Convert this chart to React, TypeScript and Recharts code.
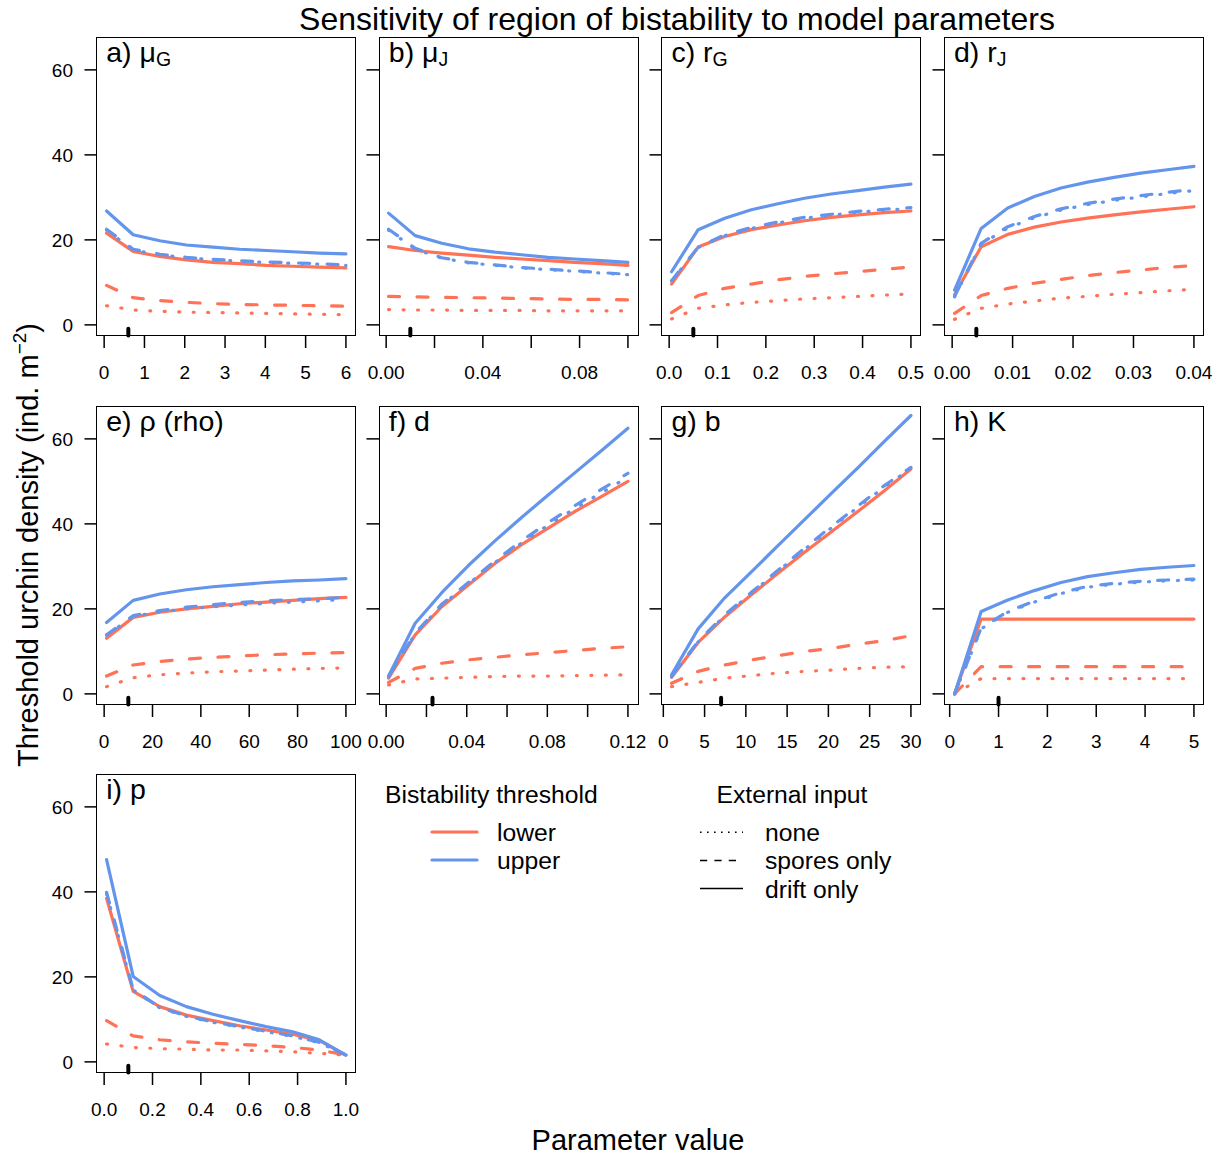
import React from 'react';
import { LineChart, Line, XAxis, YAxis, ReferenceLine } from 'recharts';

const RED = '#FF7256';
const BLUE = '#6495ED';
const FONT = '"Liberation Sans", Arial, Helvetica, sans-serif';

// a) mu_G
const muGX = [0.06, 0.72, 1.38, 2.04, 2.7, 3.36, 4.02, 4.68, 5.34, 6];
const muGLowerNone = [4.5, 3.5, 3.2, 3.0, 2.9, 2.8, 2.7, 2.6, 2.5, 2.4];
const muGLowerSpores = [9.3, 6.4, 5.7, 5.3, 5.0, 4.8, 4.7, 4.6, 4.5, 4.4];
const muGLowerDrift = [21.6, 17.3, 16.1, 15.3, 14.7, 14.4, 14.0, 13.8, 13.6, 13.4];
const muGUpperNone = [22.3, 17.6, 16.5, 15.8, 15.3, 15.0, 14.7, 14.5, 14.3, 14.0];
const muGUpperSpores = [22.5, 17.8, 16.6, 15.9, 15.4, 15.1, 14.8, 14.6, 14.4, 14.1];
const muGUpperDrift = [26.8, 21.2, 19.8, 18.8, 18.3, 17.8, 17.5, 17.2, 16.9, 16.7];

// b) mu_J
const muJX = [0.001, 0.012, 0.023, 0.034, 0.045, 0.056, 0.067, 0.078, 0.089, 0.1];
const muJLowerNone = [3.6, 3.5, 3.5, 3.4, 3.4, 3.4, 3.3, 3.3, 3.3, 3.3];
const muJLowerSpores = [6.7, 6.6, 6.5, 6.4, 6.3, 6.2, 6.1, 6.0, 6.0, 5.9];
const muJLowerDrift = [18.4, 17.5, 16.9, 16.4, 15.9, 15.5, 15.1, 14.7, 14.4, 14.0];
const muJUpperNone = [22.3, 17.8, 15.7, 14.6, 14.0, 13.4, 13.0, 12.6, 12.2, 11.8];
const muJUpperSpores = [22.5, 18.0, 15.8, 14.7, 14.1, 13.5, 13.1, 12.7, 12.3, 11.9];
const muJUpperDrift = [26.3, 21.0, 19.2, 17.9, 17.1, 16.5, 15.9, 15.5, 15.1, 14.7];

// c) r_G
const rGX = [0.005, 0.06, 0.115, 0.17, 0.225, 0.28, 0.335, 0.39, 0.445, 0.5];
const rGLowerNone = [1.4, 3.9, 4.7, 5.3, 5.7, 6.1, 6.4, 6.7, 7.0, 7.3];
const rGLowerSpores = [2.9, 6.9, 8.6, 9.6, 10.6, 11.4, 12.0, 12.5, 13.1, 13.6];
const rGLowerDrift = [9.6, 18.3, 20.8, 22.4, 23.5, 24.5, 25.3, 25.9, 26.4, 26.8];
const rGUpperNone = [10.3, 18.2, 21.0, 22.7, 24.0, 25.1, 25.8, 26.5, 27.0, 27.4];
const rGUpperSpores = [10.4, 18.3, 21.2, 22.9, 24.2, 25.3, 26.0, 26.7, 27.2, 27.6];
const rGUpperDrift = [12.5, 22.4, 25.1, 27.1, 28.5, 29.8, 30.8, 31.6, 32.4, 33.1];

// d) r_J
const rJX = [0.0004, 0.0048, 0.0092, 0.0136, 0.018, 0.0224, 0.0268, 0.0312, 0.0356, 0.04];
const rJLowerNone = [1.3, 3.9, 4.9, 5.6, 6.3, 6.7, 7.2, 7.6, 8.0, 8.4];
const rJLowerSpores = [2.7, 6.9, 8.6, 9.8, 10.7, 11.6, 12.3, 12.9, 13.5, 14.0];
const rJLowerDrift = [7.1, 18.4, 21.3, 23.0, 24.2, 25.1, 25.9, 26.6, 27.2, 27.8];
const rJUpperNone = [6.6, 19.0, 22.8, 25.2, 27.0, 28.3, 29.3, 30.1, 30.9, 31.6];
const rJUpperSpores = [6.7, 19.2, 23.1, 25.5, 27.3, 28.6, 29.6, 30.4, 31.2, 31.9];
const rJUpperDrift = [8.2, 22.7, 27.5, 30.2, 32.2, 33.6, 34.7, 35.7, 36.5, 37.3];

// e) rho
const rhoX = [1, 12, 23, 34, 45, 56, 67, 78, 89, 100];
const rhoLowerNone = [1.7, 3.8, 4.5, 4.9, 5.2, 5.4, 5.6, 5.8, 6.0, 6.1];
const rhoLowerSpores = [4.2, 6.8, 7.6, 8.2, 8.6, 8.9, 9.2, 9.4, 9.6, 9.7];
const rhoLowerDrift = [13.1, 18.0, 19.2, 20.0, 20.6, 21.2, 21.6, 22.0, 22.4, 22.7];
const rhoUpperNone = [13.8, 18.2, 19.3, 20.0, 20.5, 20.9, 21.3, 21.6, 21.9, 22.2];
const rhoUpperSpores = [13.9, 18.4, 19.6, 20.4, 21.0, 21.5, 21.9, 22.2, 22.4, 22.7];
const rhoUpperDrift = [16.8, 22.0, 23.5, 24.5, 25.2, 25.7, 26.2, 26.6, 26.8, 27.1];

// f) d
const dX = [0.0012, 0.0144, 0.0276, 0.0408, 0.054, 0.0672, 0.0804, 0.0936, 0.1068, 0.12];
const dLowerNone = [2.1, 3.5, 3.7, 3.9, 4.1, 4.2, 4.2, 4.3, 4.4, 4.5];
const dLowerSpores = [2.7, 6.0, 7.2, 8.0, 8.6, 9.2, 9.7, 10.2, 10.7, 11.1];
const dLowerDrift = [3.7, 13.9, 20.5, 25.6, 30.7, 35.1, 39.0, 42.9, 46.4, 50.0];
const dUpperNone = [4.0, 14.1, 20.9, 25.9, 30.9, 35.5, 39.7, 43.6, 47.3, 51.0];
const dUpperSpores = [4.1, 14.3, 21.1, 26.2, 31.3, 36.0, 40.3, 44.3, 48.1, 51.9];
const dUpperDrift = [4.2, 16.6, 23.8, 30.2, 36.0, 41.5, 46.8, 52.0, 57.2, 62.5];

// g) b
const bX = [1, 4.22, 7.44, 10.67, 13.89, 17.11, 20.33, 23.56, 26.78, 30];
const bLowerNone = [1.7, 2.7, 3.7, 4.3, 4.9, 5.3, 5.6, 6.0, 6.3, 6.4];
const bLowerSpores = [2.5, 5.3, 6.8, 8.0, 9.0, 10.0, 10.7, 11.7, 12.5, 13.7];
const bLowerDrift = [3.9, 12.1, 18.1, 23.3, 28.4, 33.3, 38.1, 42.9, 47.8, 52.9];
const bUpperNone = [4.0, 12.2, 18.4, 23.7, 28.9, 34.0, 39.0, 43.9, 48.7, 53.0];
const bUpperSpores = [4.1, 12.4, 18.6, 23.9, 29.1, 34.3, 39.3, 44.2, 49.0, 53.3];
const bUpperDrift = [4.5, 15.3, 22.6, 28.7, 34.9, 41.0, 47.1, 53.2, 59.4, 65.5];

// h) K
const kX = [0.1, 0.644, 1.189, 1.733, 2.278, 2.822, 3.367, 3.911, 4.456, 5];
const kLowerNone = [0, 3.6, 3.6, 3.6, 3.6, 3.6, 3.6, 3.6, 3.6, 3.6];
const kLowerSpores = [0, 6.4, 6.4, 6.4, 6.4, 6.4, 6.4, 6.4, 6.4, 6.4];
const kLowerDrift = [0, 17.6, 17.6, 17.6, 17.6, 17.6, 17.6, 17.6, 17.6, 17.6];
const kUpperNone = [0, 15.3, 19.2, 21.6, 23.6, 25.1, 25.8, 26.3, 26.6, 26.8];
const kUpperSpores = [0, 15.5, 19.4, 21.8, 23.8, 25.3, 26.0, 26.5, 26.8, 27.0];
const kUpperDrift = [0, 19.4, 22.1, 24.3, 26.2, 27.6, 28.5, 29.3, 29.8, 30.2];

// i) p
const pX = [0.01, 0.12, 0.23, 0.34, 0.45, 0.56, 0.67, 0.78, 0.89, 1.0];
const pLowerNone = [4.2, 3.4, 3.1, 3.0, 2.8, 2.8, 2.6, 2.4, 2.0, 1.6];
const pLowerSpores = [9.7, 6.1, 5.2, 4.7, 4.4, 4.1, 3.8, 3.4, 2.8, 1.6];
const pLowerDrift = [38.5, 16.6, 13.0, 11.0, 9.7, 8.5, 7.5, 6.5, 5.0, 1.6];
const pUpperNone = [39.6, 16.9, 12.7, 10.7, 9.3, 8.2, 7.1, 6.0, 4.5, 1.6];
const pUpperSpores = [39.9, 17.1, 12.8, 10.8, 9.4, 8.3, 7.2, 6.1, 4.6, 1.6];
const pUpperDrift = [47.6, 20.1, 15.6, 13.0, 11.2, 9.7, 8.3, 7.1, 5.2, 1.6];

// default parameter values (black marks on the x axis)
const defaults = [0.6, 0.01, 0.05, 0.004, 10, 0.023, 7, 1, 0.1];

const yTicks = [0, 20, 40, 60];
const yDomain = [-2.5, 67.5];

const panels = [
  { id: 'a', name: 'μ', sub: 'G', x: muGX, s: [muGLowerNone, muGLowerSpores, muGLowerDrift, muGUpperNone, muGUpperSpores, muGUpperDrift], ticks: [0, 1, 2, 3, 4, 5, 6], shown: [0, 1, 2, 3, 4, 5, 6], digits: 0 },
  { id: 'b', name: 'μ', sub: 'J', x: muJX, s: [muJLowerNone, muJLowerSpores, muJLowerDrift, muJUpperNone, muJUpperSpores, muJUpperDrift], ticks: [0, 0.02, 0.04, 0.06, 0.08, 0.1], shown: [0, 0.04, 0.08], digits: 2 },
  { id: 'c', name: 'r', sub: 'G', x: rGX, s: [rGLowerNone, rGLowerSpores, rGLowerDrift, rGUpperNone, rGUpperSpores, rGUpperDrift], ticks: [0, 0.1, 0.2, 0.3, 0.4, 0.5], shown: [0, 0.1, 0.2, 0.3, 0.4, 0.5], digits: 1 },
  { id: 'd', name: 'r', sub: 'J', x: rJX, s: [rJLowerNone, rJLowerSpores, rJLowerDrift, rJUpperNone, rJUpperSpores, rJUpperDrift], ticks: [0, 0.01, 0.02, 0.03, 0.04], shown: [0, 0.01, 0.02, 0.03, 0.04], digits: 2 },
  { id: 'e', name: 'ρ (rho)', sub: '', x: rhoX, s: [rhoLowerNone, rhoLowerSpores, rhoLowerDrift, rhoUpperNone, rhoUpperSpores, rhoUpperDrift], ticks: [0, 20, 40, 60, 80, 100], shown: [0, 20, 40, 60, 80, 100], digits: 0 },
  { id: 'f', name: 'd', sub: '', x: dX, s: [dLowerNone, dLowerSpores, dLowerDrift, dUpperNone, dUpperSpores, dUpperDrift], ticks: [0, 0.02, 0.04, 0.06, 0.08, 0.1, 0.12], shown: [0, 0.04, 0.08, 0.12], digits: 2 },
  { id: 'g', name: 'b', sub: '', x: bX, s: [bLowerNone, bLowerSpores, bLowerDrift, bUpperNone, bUpperSpores, bUpperDrift], ticks: [0, 5, 10, 15, 20, 25, 30], shown: [0, 5, 10, 15, 20, 25, 30], digits: 0 },
  { id: 'h', name: 'K', sub: '', x: kX, s: [kLowerNone, kLowerSpores, kLowerDrift, kUpperNone, kUpperSpores, kUpperDrift], ticks: [0, 1, 2, 3, 4, 5], shown: [0, 1, 2, 3, 4, 5], digits: 0 },
  { id: 'i', name: 'p', sub: '', x: pX, s: [pLowerNone, pLowerSpores, pLowerDrift, pUpperNone, pUpperSpores, pUpperDrift], ticks: [0, 0.2, 0.4, 0.6, 0.8, 1], shown: [0, 0.2, 0.4, 0.6, 0.8, 1], digits: 1 },
];

const seriesKeys = ['lowerNone', 'lowerSpores', 'lowerDrift', 'upperNone', 'upperSpores', 'upperDrift'];
const seriesStyle = [
  { stroke: RED, dash: '1 13.5' },
  { stroke: RED, dash: '11 17.5' },
  { stroke: RED, dash: undefined },
  { stroke: BLUE, dash: '1 13.5' },
  { stroke: BLUE, dash: '11 17.5' },
  { stroke: BLUE, dash: undefined },
];

// layout
const BOX_W = 258.5;
const BOX_H = 297.5;
const COL0 = 96.7;
const COL_STEP = 282.6;
const ROW0 = 38.2;
const ROW_STEP = 368.5;
const LEFT = 60;
const TOP = 10;

const XTick = (props: any) => {
  const { x, y, payload, shown, digits } = props;
  const show = shown.some((v: number) => Math.abs(v - payload.value) < 1e-9);
  return (
    <g>
      <line x1={x} x2={x} y1={y} y2={y + 12.5} stroke="#000" strokeWidth={1.5} />
      {show && (
        <text x={x} y={y + 43} textAnchor="middle" fontSize={19} fontFamily={FONT} fill="#000">
          {Number(payload.value).toFixed(digits)}
        </text>
      )}
    </g>
  );
};

const YTick = (props: any) => {
  const { x, y, payload, showLabel } = props;
  return (
    <g>
      <line x1={x} x2={x - 12.5} y1={y} y2={y} stroke="#000" strokeWidth={1.5} />
      {showLabel && (
        <text x={x - 24} y={y + 7} textAnchor="end" fontSize={19} fontFamily={FONT} fill="#000">
          {payload.value}
        </text>
      )}
    </g>
  );
};

const Panel = ({ p, idx }: { p: any; idx: number }) => {
  const row = Math.floor(idx / 4);
  const col = idx % 4;
  const boxLeft = COL0 + col * COL_STEP;
  const boxTop = ROW0 + row * ROW_STEP;
  const data = p.x.map((xv: number, i: number) => {
    const o: any = { x: xv };
    seriesKeys.forEach((k, j) => (o[k] = p.s[j][i]));
    return o;
  });
  const lo = Math.min(...p.x);
  const hi = Math.max(...p.x);
  const ext = (hi - lo) * 0.04;
  const xDomain = [lo - ext, hi + ext];
  return (
    <>
      <div style={{ position: 'absolute', left: boxLeft - LEFT, top: boxTop - TOP }}>
        <LineChart
          width={BOX_W + LEFT + 10}
          height={BOX_H + TOP + 60}
          data={data}
          margin={{ top: TOP, right: 10, bottom: 0, left: 0 }}
        >
          <XAxis
            type="number"
            dataKey="x"
            domain={xDomain}
            ticks={p.ticks}
            interval={0}
            allowDataOverflow
            axisLine={false}
            tickLine={false}
            tickSize={0}
            tickMargin={0}
            height={60}
            tick={(tp: any) => <XTick {...tp} shown={p.shown} digits={p.digits} />}
          />
          <YAxis
            type="number"
            domain={yDomain}
            ticks={yTicks}
            interval={0}
            allowDataOverflow
            axisLine={false}
            tickLine={false}
            tickSize={0}
            tickMargin={0}
            width={LEFT}
            tick={(tp: any) => <YTick {...tp} showLabel={col === 0} />}
          />
          {seriesKeys.map((k, j) => (
            <Line
              key={k}
              dataKey={k}
              type="linear"
              stroke={seriesStyle[j].stroke}
              strokeWidth={3.2}
              strokeDasharray={seriesStyle[j].dash}
              strokeLinecap="round"
              strokeLinejoin="round"
              dot={false}
              activeDot={false}
              isAnimationActive={false}
            />
          ))}
          <ReferenceLine
            segment={[{ x: defaults[idx], y: -0.9 }, { x: defaults[idx], y: -2.5 }]}
            stroke="#000"
            strokeWidth={4}
            strokeLinecap="round"
            ifOverflow="visible"
          />
        </LineChart>
      </div>
      <div
        style={{
          position: 'absolute',
          left: boxLeft - 0.75,
          top: boxTop - 0.75,
          width: BOX_W + 1.5,
          height: BOX_H + 1.5,
          border: '1.5px solid #000',
          boxSizing: 'border-box',
          pointerEvents: 'none',
        }}
      />
    </>
  );
};

export default function App() {
  return (
    <div style={{ position: 'absolute', left: 0, top: 0, width: 1222, height: 1156, background: '#fff', fontFamily: FONT }}>
      {panels.map((p, i) => (
        <Panel key={p.id} p={p} idx={i} />
      ))}
      <svg width={1222} height={1156} style={{ position: 'absolute', left: 0, top: 0, pointerEvents: 'none' }} fontFamily={FONT}>
        <text x={677} y={30} textAnchor="middle" fontSize={32}>
          Sensitivity of region of bistability to model parameters
        </text>
        <text x={638} y={1150} textAnchor="middle" fontSize={29}>
          Parameter value
        </text>
        <text transform="translate(38,545) rotate(-90)" textAnchor="middle" fontSize={29}>
          Threshold urchin density (ind. m
          <tspan dy={-12} fontSize={19}>−2</tspan>
          <tspan dy={12}>)</tspan>
        </text>
        {panels.map((p, i) => {
          const row = Math.floor(i / 4);
          const col = i % 4;
          const bx = COL0 + col * COL_STEP;
          const by = ROW0 + row * ROW_STEP;
          return (
            <text key={p.id} x={bx + 9.5} y={by + 24} fontSize={28.5}>
              {p.id + ') ' + p.name}
              {p.sub && (
                <tspan dy={4} fontSize={19.5}>
                  {p.sub}
                </tspan>
              )}
            </text>
          );
        })}
        {/* legend */}
        <text x={385} y={803.3} fontSize={24.7}>Bistability threshold</text>
        <line x1={432} x2={477} y1={832} y2={832} stroke={RED} strokeWidth={3.2} strokeLinecap="round" />
        <line x1={432} x2={477} y1={860} y2={860} stroke={BLUE} strokeWidth={3.2} strokeLinecap="round" />
        <text x={497} y={840.5} fontSize={24.7}>lower</text>
        <text x={497} y={869} fontSize={24.7}>upper</text>
        <text x={716.5} y={803.3} fontSize={24.7}>External input</text>
        <line x1={700} x2={743} y1={832.3} y2={832.3} stroke="#000" strokeWidth={1.6} strokeDasharray="1.6 5.4" />
        <line x1={700} x2={743} y1={860.5} y2={860.5} stroke="#000" strokeWidth={1.6} strokeDasharray="7.2 7.2" />
        <line x1={700} x2={743} y1={888.5} y2={888.5} stroke="#000" strokeWidth={1.6} />
        <text x={765} y={840.5} fontSize={24.7}>none</text>
        <text x={765} y={869} fontSize={24.7}>spores only</text>
        <text x={765} y={897.5} fontSize={24.7}>drift only</text>
      </svg>
    </div>
  );
}
